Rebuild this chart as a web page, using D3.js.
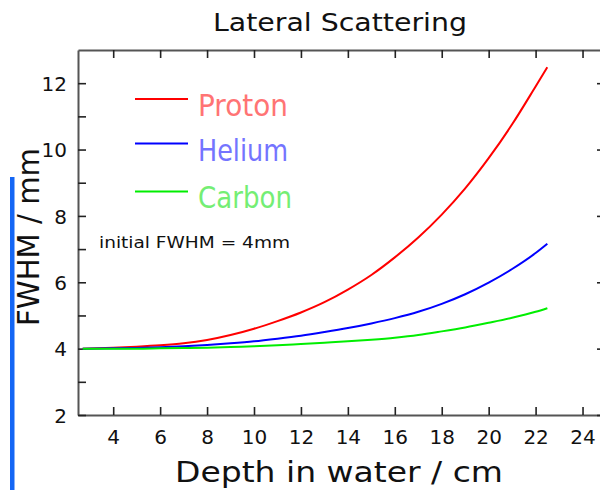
<!DOCTYPE html>
<html>
<head>
<meta charset="utf-8">
<script src="https://cdn.jsdelivr.net/npm/d3@7"></script>
<style>
  html, body { margin: 0; padding: 0; background: #fff; }
  svg { display: block; }
</style>
</head>
<body>
<svg id="chart" width="600" height="490"></svg>
<script>
// ---- data ----
const depth  = [2.7, 4, 5, 6, 7, 8, 9, 10, 11, 12, 13, 14, 15, 16, 17, 18, 19, 20, 21, 22, 22.5];
const proton = [4.00, 4.03, 4.06, 4.10, 4.16, 4.26, 4.41, 4.60, 4.83, 5.09, 5.40, 5.78, 6.22, 6.75, 7.35, 8.04, 8.83, 9.74, 10.76, 11.90, 12.48];
const helium = [4.00, 4.01, 4.02, 4.04, 4.07, 4.11, 4.16, 4.22, 4.30, 4.39, 4.50, 4.62, 4.76, 4.92, 5.11, 5.35, 5.64, 5.99, 6.40, 6.88, 7.16];
const carbon = [4.00, 4.00, 4.00, 4.01, 4.02, 4.03, 4.05, 4.07, 4.10, 4.14, 4.18, 4.22, 4.27, 4.33, 4.41, 4.52, 4.64, 4.78, 4.93, 5.11, 5.22];
const seriesNames = ["Proton", "Helium", "Carbon"];
const xTicks = [4, 6, 8, 10, 12, 14, 16, 18, 20, 22, 24];
const yTicks = [2, 4, 6, 8, 10, 12];
const yMinorTicks = [3, 5, 7, 9, 11];
const titleText = "Lateral Scattering";
const xLabelText = "Depth in water / cm";
const yLabelText = "FWHM / mm";
const noteText = "initial FWHM = 4mm";

(function () {
// ---- layout ----
const svg = d3.select("#chart");
const pLeft = 78, pRight = 606, pTop = 50, pBottom = 415;
const x = d3.scaleLinear().domain([2.5, 25]).range([pLeft, pRight]);
const y = d3.scaleLinear().domain([2, 13]).range([pBottom, pTop]);

const lineColors = ["#ff0000", "#0000ff", "#00ee00"];
const textColors = ["#ff7474", "#7474ff", "#74ee74"];
const seriesValues = [proton, helium, carbon];

// blue bar artifact at left
svg.append("rect").attr("x", 10).attr("y", 177).attr("width", 4.5).attr("height", 313).attr("fill", "#1466f5");

// title
svg.append("text").attr("x", 340).attr("y", 31).attr("text-anchor", "middle")
  .attr("font-family", "DejaVu Sans").attr("font-size", 24).attr("fill", "#111")
  .attr("textLength", 254).attr("lengthAdjust", "spacingAndGlyphs").text(titleText);

// axes
const axisColor = "#555";
function styleAxis(g) {
  g.selectAll("path.domain").attr("stroke", axisColor).attr("stroke-width", 2);
  g.selectAll(".tick line").attr("stroke", "#222").attr("stroke-width", 1.6);
  g.selectAll(".tick text").attr("font-family", "DejaVu Sans").attr("font-size", 20).attr("fill", "#111");
}

const gx = svg.append("g").attr("transform", `translate(0,${pBottom})`)
  .call(d3.axisBottom(x).tickValues(xTicks).tickSizeInner(-8).tickSizeOuter(0).tickPadding(15).tickFormat(d3.format("d")));
styleAxis(gx);

const gxTop = svg.append("g").attr("transform", `translate(0,${pTop})`)
  .call(d3.axisTop(x).tickValues(xTicks).tickSizeInner(-8).tickSizeOuter(0).tickFormat(""));
styleAxis(gxTop);

const gy = svg.append("g").attr("transform", `translate(${pLeft},0)`)
  .call(d3.axisLeft(y).tickValues(yTicks).tickSizeInner(-8).tickSizeOuter(0).tickPadding(11).tickFormat(d3.format("d")));
styleAxis(gy);
gy.selectAll(".tick text").attr("dy", "0.36em");

const gyMinor = svg.append("g").attr("transform", `translate(${pLeft},0)`)
  .call(d3.axisLeft(y).tickValues(yMinorTicks).tickSizeInner(-8).tickSizeOuter(0).tickFormat(""));
styleAxis(gyMinor);
gyMinor.select("path.domain").remove();

const gyRight = svg.append("g").attr("transform", `translate(${pRight},0)`)
  .call(d3.axisRight(y).tickValues(yTicks).tickSizeInner(-9).tickSizeOuter(0).tickFormat(""));
styleAxis(gyRight);

// axis labels
svg.append("text").attr("x", 339).attr("y", 482).attr("text-anchor", "middle")
  .attr("font-family", "DejaVu Sans").attr("font-size", 29).attr("fill", "#111")
  .attr("textLength", 328).attr("lengthAdjust", "spacingAndGlyphs").text(xLabelText);

svg.append("text").attr("transform", "translate(39,237) rotate(-90)").attr("text-anchor", "middle")
  .attr("font-family", "DejaVu Sans").attr("font-size", 30).attr("fill", "#111")
  .attr("textLength", 178).attr("lengthAdjust", "spacingAndGlyphs").text(yLabelText);

// lines
const line = d3.line().x(d => x(d[0])).y(d => y(d[1])).curve(d3.curveMonotoneX);
seriesValues.forEach((vals, i) => {
  svg.append("path").datum(depth.map((d, j) => [d, vals[j]]))
    .attr("d", line).attr("fill", "none").attr("stroke", lineColors[i]).attr("stroke-width", 2);
});

// legend
const legendY = [99, 143.5, 191.5];
const legendTextY = [116, 161, 208];
const legendW = [90, 90, 94];
seriesNames.forEach((name, i) => {
  svg.append("line").attr("x1", 135).attr("x2", 188).attr("y1", legendY[i]).attr("y2", legendY[i])
    .attr("stroke", lineColors[i]).attr("stroke-width", 2);
  svg.append("text").attr("x", 198).attr("y", legendTextY[i])
    .attr("font-family", "DejaVu Sans").attr("font-size", 31).attr("fill", textColors[i])
    .attr("textLength", legendW[i]).attr("lengthAdjust", "spacingAndGlyphs").text(name);
});

// note
svg.append("text").attr("x", 99).attr("y", 248).attr("font-family", "DejaVu Sans").attr("font-size", 15)
  .attr("fill", "#111").attr("textLength", 191).attr("lengthAdjust", "spacingAndGlyphs").text(noteText);
})();
</script>
</body>
</html>
